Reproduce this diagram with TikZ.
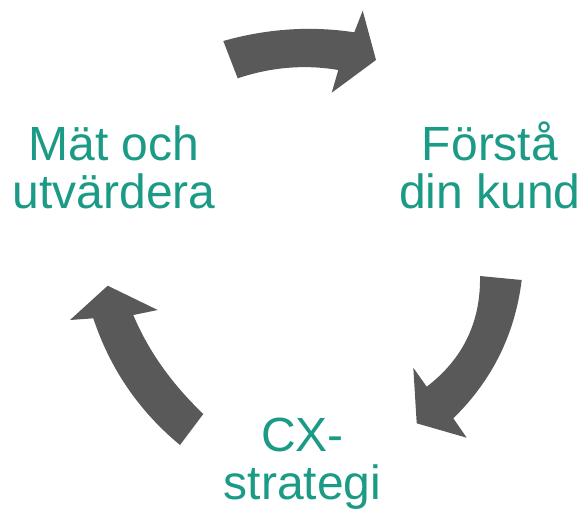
\documentclass[tikz,border=0pt]{standalone}
\usepackage{fontspec}
\setmainfont{Liberation Sans}
\definecolor{cyclegray}{HTML}{595959}
\definecolor{cycleteal}{HTML}{1B9A85}
\begin{document}
\begin{tikzpicture}[x=1pt,y=-1pt,
  cyclearrow/.style={fill=cyclegray,draw=none},
  steplabel/.style={text=cycleteal,align=center,inner sep=0pt,anchor=base,
    font=\fontsize{48}{48}\selectfont}]
\useasboundingbox (0,0) rectangle (588,512);

% top arrow: from "Mät och utvärdera" to "Förstå din kund"
\path[cyclearrow] (223.3,41) .. controls (267.2,28.6) and (310.9,25.7) .. (354.3,32.3)
  -- (362.7,10.7) -- (376,60) -- (331.7,92.7) -- (338.3,70)
  .. controls (304.8,64.3) and (271.2,67.1) .. (237.7,78.3) -- cycle;

% right arrow: down towards "CX-strategi"
\path[cyclearrow] (521.7,280) .. controls (515.0,334.2) and (492.2,380.3) .. (453.3,418.3)
  -- (466.7,437.7) -- (416.7,423.3) -- (413.3,367.7) -- (426.7,386.7)
  .. controls (463.1,358.8) and (480.8,321.9) .. (480,276) -- cycle;

% left arrow: up towards "Mät och utvärdera"
\path[cyclearrow] (180,445) .. controls (139.0,411.1) and (110.1,368.9) .. (93.3,318.3)
  -- (70,320) -- (107.7,285.7) -- (157.7,310) -- (133.3,315)
  .. controls (148.2,350.7) and (171.6,383.7) .. (203.3,414) -- cycle;

% labels are placed by the baseline of their last line
\node[steplabel] (measure) at (114,208.5) {Mät och\\utvärdera};
\node[steplabel] (customer) at (490,208.5) {Förstå\\din kund};
\node[steplabel] (strategy) at (302.5,499) {CX-\\strategi};
\end{tikzpicture}
\end{document}
